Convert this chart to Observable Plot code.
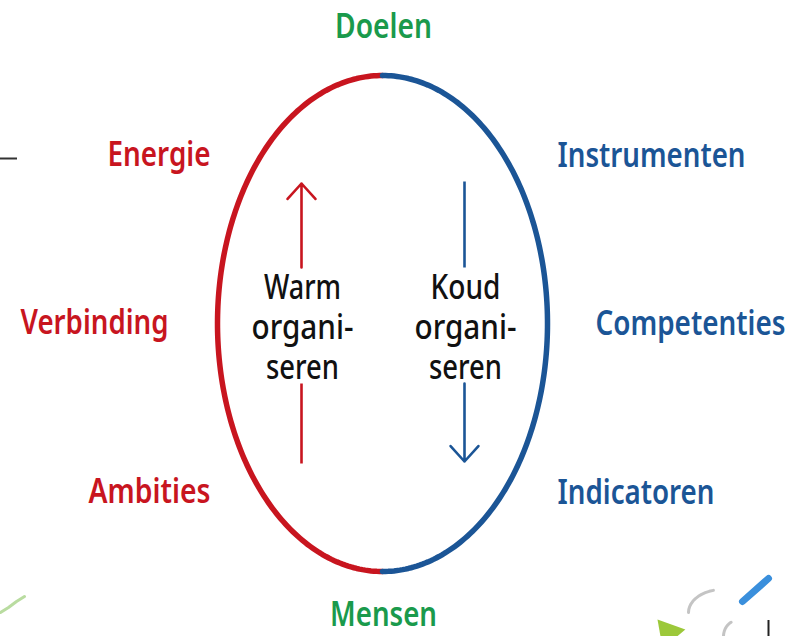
<!DOCTYPE html>
<html>
<head>
<meta charset="utf-8">
<script src="https://cdn.jsdelivr.net/npm/d3@7"></script>
<script src="https://cdn.jsdelivr.net/npm/@observablehq/plot@0.6"></script>
<style>
  html, body { margin: 0; padding: 0; background: #fff; }
  #chart svg { display: block; }
  #chart text { font-stretch: condensed; }
</style>
</head>
<body>
<div id="chart"></div>
<script>
// ---- data ----
const topLabel = "Doelen";
const bottomLabel = "Mensen";
const leftLabels = ["Energie", "Verbinding", "Ambities"];
const rightLabels = ["Instrumenten", "Competenties", "Indicatoren"];
const innerLeft = ["Warm", "organi-", "seren"];
const innerRight = ["Koud", "organi-", "seren"];
const halves = ["warm", "koud"];

// ---- layout ----
const W = 805, H = 636;
const RED = "#c8151f", BLUE = "#1b5596", GREEN = "#1a9a4c";
const FONT = "'Noto Sans', Roboto, 'Liberation Sans', sans-serif";
const cx = 382, cy = 323, rx = 165, ry = 248;

// rendered widths of the condensed lettering
const textWidth = {
  "Doelen": 97, "Mensen": 107,
  "Energie": 103, "Verbinding": 148, "Ambities": 122,
  "Instrumenten": 188, "Competenties": 190, "Indicatoren": 157,
  "Warm": 77, "Koud": 70, "organi-": 102, "seren": 73
};

const ellipse = [];
halves.forEach((h, i) => {
  const a0 = i === 0 ? 90 : -90;
  for (let k = 0; k <= 180; k++) {
    const t = (a0 + k) * Math.PI / 180;
    ellipse.push({half: h, x: cx + rx * Math.cos(t), y: cy - ry * Math.sin(t)});
  }
});

const labelRows = [155, 323, 492];
const leftX = [210, 168, 210];
const rightX = [557, 595, 557];
const sideLabels = [
  ...leftLabels.map((t, i) => ({text: t, x: leftX[i], y: labelRows[i], side: "L"})),
  ...rightLabels.map((t, i) => ({text: t, x: rightX[i], y: labelRows[i] + 1, side: "R"}))
];

const arrowX = {warm: 301, koud: 464};
const shafts = [
  {half: "warm", x: arrowX.warm, y1: 383, y2: 463},
  {half: "koud", x: arrowX.koud, y1: 181, y2: 267}
];
const heads = [
  {half: "warm", x: arrowX.warm, y1: 267, y2: 183},
  {half: "koud", x: arrowX.koud, y1: 383, y2: 461}
];
const colorOf = h => h === "warm" ? RED : BLUE;

// decorative fragments (leaf & logo corners)
const swoosh = [[0, 612], [8, 607], [16, 601], [24, 596]];
const arcA = d3.range(0, 1.01, 0.1).map(t => [722 - 34 * Math.cos(t * 1.3), 612 - 23 * Math.sin(t * 1.3)]);
const arcB = d3.range(0, 1.01, 0.1).map(t => [737 - 14 * Math.cos(t * 1.1), 636 - 16 * Math.sin(t * 1.1)]);

const common = {fontFamily: FONT, fontWeight: 600};

const plot = Plot.plot({
  width: W, height: H, margin: 0,
  x: {domain: [0, W], range: [0, W], axis: null},
  y: {domain: [0, H], range: [0, H], axis: null},
  style: {background: "#fff"},
  marks: [
    // small dash at left edge
    Plot.ruleY([158], {x1: 0, x2: 17, stroke: "#333", strokeWidth: 2}),
    // decorations
    Plot.line(swoosh, {stroke: "#b9dca0", strokeWidth: 3, strokeLinecap: "round"}),
    Plot.line(arcA, {stroke: "#c4c4c4", strokeWidth: 3}),
    Plot.line(arcB, {stroke: "#c4c4c4", strokeWidth: 3}),
    Plot.link([0], {x1: 742, y1: 601, x2: 768, y2: 578, stroke: "#3a8fdc", strokeWidth: 7, strokeLinecap: "round"}),
    Plot.dot([0], {x: 668, y: 632, r: 11, symbol: "triangle", fill: "#9cc83a", rotate: 200}),
    Plot.ruleX([768], {y1: 620, y2: 636, stroke: "#222", strokeWidth: 2}),
    // ellipse halves
    Plot.line(ellipse, {x: "x", y: "y", z: "half", stroke: d => colorOf(d.half), strokeWidth: 5.5}),
    // arrows
    Plot.link(shafts, {x1: "x", x2: "x", y1: "y1", y2: "y2", stroke: d => colorOf(d.half), strokeWidth: 2.6}),
    Plot.arrow(heads, {x1: "x", x2: "x", y1: "y1", y2: "y2", stroke: d => colorOf(d.half), strokeWidth: 2.6, headLength: 12, headAngle: 84}),
    // inner texts
    Plot.text([innerLeft.join("\n")], {x: 302, y: 326, text: d => d, fontSize: 35, lineHeight: 1.14, textAnchor: "middle", fill: "#111", fontFamily: FONT, fontWeight: 500}),
    Plot.text([innerRight.join("\n")], {x: 465, y: 326, text: d => d, fontSize: 35, lineHeight: 1.14, textAnchor: "middle", fill: "#111", fontFamily: FONT, fontWeight: 500}),
    // top / bottom
    Plot.text([topLabel], {x: 383, y: 27, text: d => d, fontSize: 34, fill: GREEN, ...common}),
    Plot.text([bottomLabel], {x: 383, y: 615, text: d => d, fontSize: 34, fill: GREEN, ...common}),
    // sides
    Plot.text(sideLabels.filter(d => d.side === "L"), {x: "x", y: "y", text: "text", fontSize: 34, textAnchor: "end", fill: RED, ...common}),
    Plot.text(sideLabels.filter(d => d.side === "R"), {x: "x", y: "y", text: "text", fontSize: 34, textAnchor: "start", fill: BLUE, ...common})
  ]
});
document.getElementById("chart").appendChild(plot);

// squeeze the lettering to the condensed widths of the original
d3.select(plot).selectAll("text").each(function() {
  const tspans = this.querySelectorAll("tspan");
  const targets = tspans.length ? Array.from(tspans) : [this];
  targets.forEach(el => {
    const w = textWidth[el.textContent];
    if (w) {
      el.setAttribute("textLength", w);
      el.setAttribute("lengthAdjust", "spacingAndGlyphs");
    }
  });
});
</script>
</body>
</html>
